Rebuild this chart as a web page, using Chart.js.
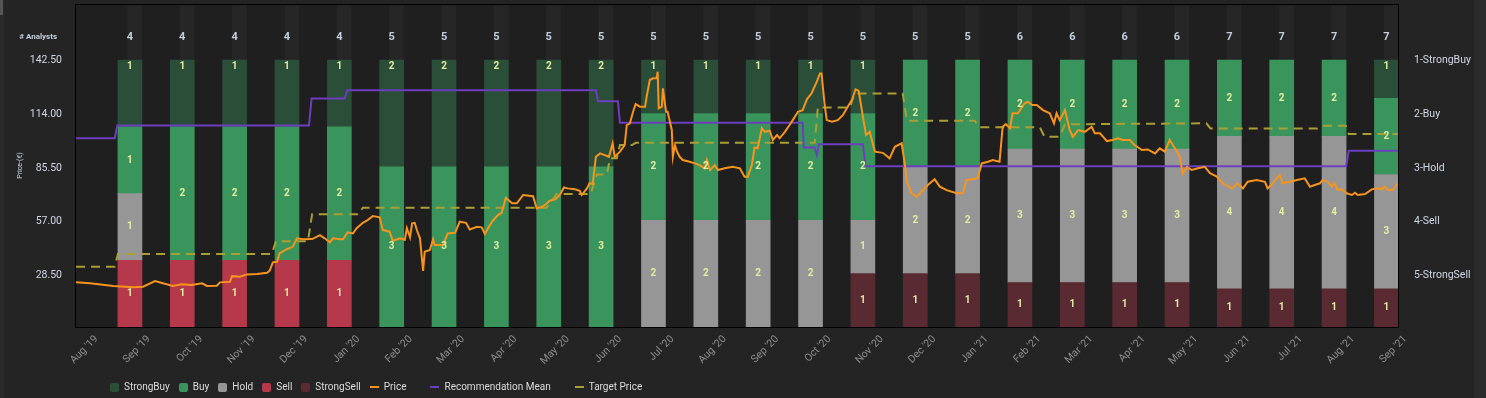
<!DOCTYPE html>
<html>
<head>
<meta charset="utf-8">
<script src="https://cdn.jsdelivr.net/npm/chart.js@4.4.1/dist/chart.umd.min.js"></script>
<style>
  html,body{margin:0;padding:0;background:#242424;}
  #wrap{position:relative;width:1486px;height:398px;overflow:hidden;}
  #edgeL{position:absolute;left:0;top:0;width:4px;height:398px;background:#2a2a2a;}
  #edgeTL{position:absolute;left:0;top:0;width:3px;height:15px;background:#555;}
  #edgeR{position:absolute;right:0;top:0;width:12px;height:398px;background:#2b2b2b;}
  #c{position:absolute;left:0;top:0;}
  #legend{position:absolute;left:110px;top:381px;display:flex;align-items:center;
    font:10px Roboto,sans-serif;line-height:12px;color:#dcdcdc;white-space:nowrap;}
  .li{display:flex;align-items:center;margin-right:9px;}
  .li i{display:inline-block;width:9px;height:9px;border-radius:2px;margin-right:5px;}
  .li i.ln{height:2px;border-radius:0;}
  .li.wide{margin-right:24px;}
</style>
</head>
<body>
<div id="wrap">
  <div id="edgeL"></div><div id="edgeTL"></div><div id="edgeR"></div>
  <canvas id="c" width="1486" height="398"></canvas>
  <div id="legend"></div>
</div>
<script>
// x axis is in months, 0 = Aug '19
const monthLabels = ["Aug '19","Sep '19","Oct '19","Nov '19","Dec '19","Jan '20","Feb '20","Mar '20","Apr '20",
  "May '20","Jun '20","Jul '20","Aug '20","Sep '20","Oct '20","Nov '20","Dec '20","Jan '21","Feb '21","Mar '21",
  "Apr '21","May '21","Jun '21","Jul '21","Aug '21","Sep '21"];
const barMonths  = [1,2,3,4,5,6,7,8,9,10,11,12,13,14,15,16,17,18,19,20,21,22,23,24,25];
const analysts   = [4,4,4,4,4,5,5,5,5,5,5,5,5,5,5,5,5,6,6,6,6,7,7,7,7];
const strongBuy  = [1,1,1,1,1,2,2,2,2,2,1,1,1,1,1,0,0,0,0,0,0,0,0,0,1];
const buy        = [1,2,2,2,2,3,3,3,3,3,2,2,2,2,2,2,2,2,2,2,2,2,2,2,2];
const hold       = [1,0,0,0,0,0,0,0,0,0,2,2,2,2,1,2,2,3,3,3,3,4,4,4,3];
const sell       = [1,1,1,1,1,0,0,0,0,0,0,0,0,0,0,0,0,0,0,0,0,0,0,0,0];
const strongSell = [0,0,0,0,0,0,0,0,0,0,0,0,0,0,1,1,1,1,1,1,1,1,1,1,1];

const priceTicks   = [28.5,57,85.5,114,142.5];
const ratingLabels = ['1-StrongBuy','2-Buy','3-Hold','4-Sell','5-StrongSell'];

const priceX = [-0.03,0.24,0.68,1.06,1.25,1.48,1.63,1.82,1.99,2.18,2.38,2.47,2.66,2.72,2.91,2.95,3.10,3.23,3.43,3.62,
  3.67,3.73,3.81,3.86,4.00,4.11,4.19,4.30,4.48,4.63,4.72,4.82,4.88,5.01,5.07,5.16,5.26,5.33,5.45,5.54,
  5.64,5.77,5.83,5.96,6.02,6.16,6.25,6.29,6.35,6.39,6.44,6.48,6.54,6.60,6.63,6.73,6.79,6.82,6.98,7.07,
  7.21,7.30,7.42,7.49,7.63,7.72,7.78,7.84,7.93,8.03,8.10,8.18,8.30,8.39,8.51,8.70,8.77,8.87,8.93,9.02,
  9.12,9.21,9.29,9.36,9.50,9.59,9.63,9.73,9.78,9.84,9.90,9.98,10.07,10.15,10.22,10.26,10.36,10.45,10.49,10.55,
  10.61,10.66,10.74,10.84,10.87,10.93,10.99,11.06,11.08,11.10,11.16,11.18,11.24,11.27,11.35,11.37,11.41,11.45,11.50,11.56,
  11.69,11.79,11.88,11.98,12.02,12.08,12.17,12.23,12.36,12.51,12.65,12.74,12.80,12.88,12.93,12.99,13.07,13.13,13.22,13.28,
  13.36,13.41,13.51,13.60,13.66,13.76,13.85,13.93,14.02,14.12,14.18,14.21,14.27,14.31,14.41,14.52,14.62,14.71,14.79,14.86,
  14.92,15.00,15.06,15.13,15.23,15.38,15.51,15.61,15.74,15.80,15.84,15.93,16.03,16.12,16.24,16.37,16.47,16.60,16.79,16.91,
  16.98,17.19,17.27,17.39,17.48,17.61,17.67,17.73,17.81,17.86,17.96,18.09,18.15,18.23,18.32,18.44,18.57,18.65,18.70,18.76,
  18.86,18.95,19.01,19.11,19.24,19.37,19.43,19.53,19.66,19.77,19.87,19.96,20.10,20.19,20.33,20.44,20.58,20.67,20.77,20.86,
  20.92,21.00,21.05,21.11,21.19,21.28,21.40,21.53,21.63,21.76,21.87,22.05,22.16,22.26,22.35,22.52,22.68,22.73,22.83,22.96,
  23.02,23.15,23.29,23.44,23.54,23.63,23.73,23.78,23.88,23.96,24.01,24.07,24.15,24.24,24.34,24.40,24.45,24.59,24.72,24.82,
  24.91,24.97,25.03,25.12,25.20,25.24];
const priceY = [25.0,24.5,23.1,22.4,22.7,25.7,24.5,23.1,24.0,23.6,24.5,23.1,23.2,25.0,25.3,28.3,28.0,29.2,29.4,30.1,
  31.2,35.6,35.9,40.4,42.6,43.8,48.3,47.8,47.9,50.0,48.3,46.2,48.3,47.8,47.8,51.5,50.9,53.6,56.5,57.9,
  60.1,59.4,52.7,51.8,47.0,48.3,47.4,53.6,48.8,56.2,56.5,52.7,48.3,31.1,41.2,42.1,47.8,44.7,44.7,50.9,
  51.2,57.1,56.5,53.0,54.4,54.1,50.6,53.6,57.6,60.6,61.8,69.7,66.8,66.8,71.2,70.6,64.1,65.0,65.9,68.2,
  68.9,71.2,75.2,74.7,74.2,73.4,71.2,74.7,77.4,77.0,91.4,93.2,92.3,91.4,98.5,91.4,94.1,97.6,108.2,109.1,
  115.2,119.3,117.9,117.9,123.2,132.0,132.9,132.9,136.4,117.0,117.9,127.6,115.2,115.2,105.6,91.4,97.6,94.1,91.4,89.7,
  88.8,87.9,87.0,85.3,89.7,84.4,87.0,84.4,85.3,86.1,85.3,80.9,80.9,87.0,96.3,95.9,106.5,104.6,105.2,100.3,
  102.9,101.2,104.6,108.2,110.8,115.2,116.1,121.8,125.0,131.1,135.5,135.5,118.8,110.8,109.9,110.8,113.5,117.9,121.4,127.1,
  126.3,112.6,102.9,104.6,94.1,93.5,90.6,96.7,98.5,87.9,78.2,72.1,70.3,72.9,76.5,79.5,75.6,73.8,72.1,72.1,
  79.1,80.0,87.9,88.8,89.7,88.8,107.3,108.7,106.4,114.4,114.4,119.7,120.5,118.8,118.8,116.1,114.4,109.1,114.4,110.8,
  116.1,105.5,102.0,105.5,104.6,107.3,103.8,103.8,99.7,100.3,101.2,100.3,100.3,97.6,95.0,95.3,93.2,95.9,94.1,100.3,
  97.6,94.1,91.4,82.7,86.1,84.4,85.3,86.1,82.7,80.9,77.4,74.7,77.4,74.7,78.2,79.1,78.2,74.7,77.4,81.8,
  77.4,78.2,79.1,80.0,75.6,76.5,77.4,79.1,78.2,75.6,77.4,73.8,74.2,72.1,71.2,72.4,71.2,71.7,74.2,74.7,
  74.2,75.6,73.8,73.8,76.8,76.8];

const recX = [-0.03,0.71,0.76,4.42,4.47,5.10,5.15,9.90,9.94,10.32,10.36,13.85,13.87,14.08,14.12,14.16,15.00,15.05,24.23,24.28,25.24];
const recY = [2.45,2.45,2.21,2.21,1.71,1.71,1.56,1.56,1.76,1.76,2.16,2.16,2.62,2.62,2.76,2.56,2.56,2.97,2.97,2.68,2.68];

const tgtX = [-0.03,0.71,0.77,3.71,3.79,4.40,4.48,5.35,5.45,8.96,9.15,9.80,9.92,10.11,10.17,10.30,10.36,10.59,10.66,14.08,
  14.14,14.75,14.84,15.76,15.84,17.14,17.21,18.38,18.47,18.76,18.86,21.56,21.64,23.68,23.78,24.22,24.28,25.24];
const tgtY = [33.3,33.3,40.0,40.0,46.8,46.8,61.0,61.0,64.5,64.5,71.7,71.7,82.1,82.1,90.6,90.6,97.6,97.6,98.8,98.8,
  117.5,117.5,124.9,124.9,110.5,110.5,107.0,107.0,102.0,102.0,108.6,109.1,106.4,106.4,107.8,107.8,103.5,103.5];

// axis ranges chosen so rating 1..5 lines up with 142.50..28.50
const X_MIN = -0.03, X_MAX = 25.24;
const P_MIN = 1.4, P_MAX = 172.2;
const R_MIN = (171 - P_MAX) / 28.5, R_MAX = (171 - P_MIN) / 28.5;
const B_MAX = (P_MAX - P_MIN) / (142.5 - P_MIN);
const ANALYST_ROW = 154.7;

const COL = {sb:'#2b4e38', b:'#3a955c', h:'#969696', s:'#b5394b', ss:'#5a2a33',
  price:'#f7941e', rec:'#6b3fbd', tgt:'#aa9f33'};

const pts = (xs, ys) => xs.map((x,i)=>({x, y:ys[i]}));
const share = arr => barMonths.map((m,i)=>({x:m, y:arr[i] ? arr[i]/analysts[i] : null}));

const barSeries = [
  {label:'StrongSell', counts:strongSell, color:COL.ss},
  {label:'Sell',       counts:sell,       color:COL.s},
  {label:'Hold',       counts:hold,       color:COL.h},
  {label:'Buy',        counts:buy,        color:COL.b},
  {label:'StrongBuy',  counts:strongBuy,  color:COL.sb},
];

const datasets = barSeries.map(s=>({
  type:'bar', label:s.label, data:share(s.counts), backgroundColor:s.color,
  yAxisID:'yb', stack:'r', grouped:false, barThickness:24, order:2
}));
datasets.push({
  type:'bar', label:'band', data:barMonths.map(m=>({x:m+0.09, y:[1,B_MAX]})),
  backgroundColor:'#262626', yAxisID:'ys', grouped:false, barThickness:14, order:3
});
datasets.push(
  {type:'line', label:'Price', data:pts(priceX,priceY), borderColor:COL.price, borderWidth:2,
   pointRadius:0, yAxisID:'y', order:0},
  {type:'line', label:'Recommendation Mean', data:pts(recX,recY), borderColor:COL.rec, borderWidth:2,
   pointRadius:0, yAxisID:'yr', order:1},
  {type:'line', label:'Target Price', data:pts(tgtX,tgtY), borderColor:COL.tgt, borderWidth:2,
   borderDash:[9,6], pointRadius:0, yAxisID:'y', order:1}
);

const panel = {
  id:'panel',
  beforeDatasetsDraw(chart){
    const {ctx, chartArea:a} = chart;
    ctx.save(); ctx.fillStyle='#1f1f1f';
    ctx.fillRect(a.left, a.top, a.right-a.left, a.bottom-a.top);
    ctx.restore();
  },
  afterDatasetsDraw(chart){
    const {ctx, chartArea:a} = chart;
    const yRow = chart.scales.y.getPixelForValue(ANALYST_ROW);
    ctx.save();
    ctx.textAlign='center'; ctx.textBaseline='middle';
    ctx.font='bold 10px Roboto, sans-serif'; ctx.fillStyle='#e2eda2';
    barSeries.forEach((s,d)=>{
      chart.getDatasetMeta(d).data.forEach((el,i)=>{
        if(!s.counts[i]) return;
        const y = s.label==='StrongBuy' ? el.y+6 : (el.y+el.base)/2;
        ctx.fillText(String(s.counts[i]), el.x, y);
      });
    });
    ctx.font='bold 11px Roboto, sans-serif'; ctx.fillStyle='#c5cfdc';
    chart.getDatasetMeta(3).data.forEach((el,i)=>ctx.fillText(String(analysts[i]), el.x, yRow));
    ctx.font='bold 8px Roboto, sans-serif'; ctx.textAlign='right';
    ctx.fillText('# Analysts', a.left-19, yRow);
    ctx.restore();
  },
  afterDraw(chart){
    const {ctx, chartArea:a} = chart;
    ctx.save(); ctx.strokeStyle='#000'; ctx.lineWidth=1;
    ctx.strokeRect(a.left-0.5, a.top+0.5, a.right-a.left, a.bottom-a.top);
    ctx.restore();
  }
};

// keep the axis boxes at fixed sizes, no extra padding around the plot
const fixBox = (w, h) => ax => {
  if (w != null) ax.width = w;
  if (h != null) ax.height = h;
  ax.paddingTop = ax.paddingBottom = ax.paddingLeft = ax.paddingRight = 0;
};
const noGrid = {display:false, drawTicks:false};

Chart.defaults.font.family = 'Roboto, sans-serif';
new Chart(document.getElementById('c'), {
  type:'bar',
  data:{datasets},
  options:{
    responsive:false, animation:false,
    layout:{padding:{top:4,left:0,right:0,bottom:0}},
    plugins:{legend:{display:false}, tooltip:{enabled:false}},
    scales:{
      x:{type:'linear', min:X_MIN, max:X_MAX, offset:false,
        grid:noGrid, border:{display:false},
        afterBuildTicks:ax=>{ax.ticks=monthLabels.map((_,i)=>({value:i}));},
        afterFit:fixBox(null, 71),
        ticks:{autoSkip:false, minRotation:45, maxRotation:45, labelOffset:19, padding:6,
          color:'#8e8e8e', font:{size:10.5}, callback:v=>monthLabels[v]}},
      y:{type:'linear', position:'left', min:P_MIN, max:P_MAX,
        grid:noGrid, border:{display:false},
        afterBuildTicks:ax=>{ax.ticks=priceTicks.map(v=>({value:v}));},
        afterFit:fixBox(76, null),
        title:{display:true, text:'Price-(€)', color:'#d0d8e2', font:{size:7}, padding:{top:16,bottom:0}},
        ticks:{padding:14, color:'#d0d8e4', font:{size:10.5}, callback:v=>v.toFixed(2)}},
      yr:{type:'linear', position:'right', reverse:true, min:R_MIN, max:R_MAX,
        grid:noGrid, border:{display:false},
        afterBuildTicks:ax=>{ax.ticks=ratingLabels.map((_,i)=>({value:i+1}));},
        afterFit:fixBox(87, null),
        ticks:{padding:15, color:'#d0d8e4', font:{size:10.5}, callback:v=>ratingLabels[v-1]}},
      yb:{display:false, stacked:true, min:0, max:B_MAX},
      ys:{display:false, min:0, max:B_MAX}
    }
  },
  plugins:[panel]
});

// legend, same order as the reference
const legendItems = [
  {label:'StrongBuy', color:COL.sb}, {label:'Buy', color:COL.b}, {label:'Hold', color:COL.h},
  {label:'Sell', color:COL.s}, {label:'StrongSell', color:COL.ss},
  {label:'Price', color:COL.price, line:true}, {label:'Recommendation Mean', color:COL.rec, line:true},
  {label:'Target Price', color:COL.tgt, line:true}
];
document.getElementById('legend').innerHTML = legendItems.map((it,i)=>
  `<span class="li${it.line && i<legendItems.length-1 ? ' wide' : ''}"><i class="${it.line?'ln':''}" style="background:${it.color}"></i>${it.label}</span>`
).join('');
</script>
</body>
</html>
